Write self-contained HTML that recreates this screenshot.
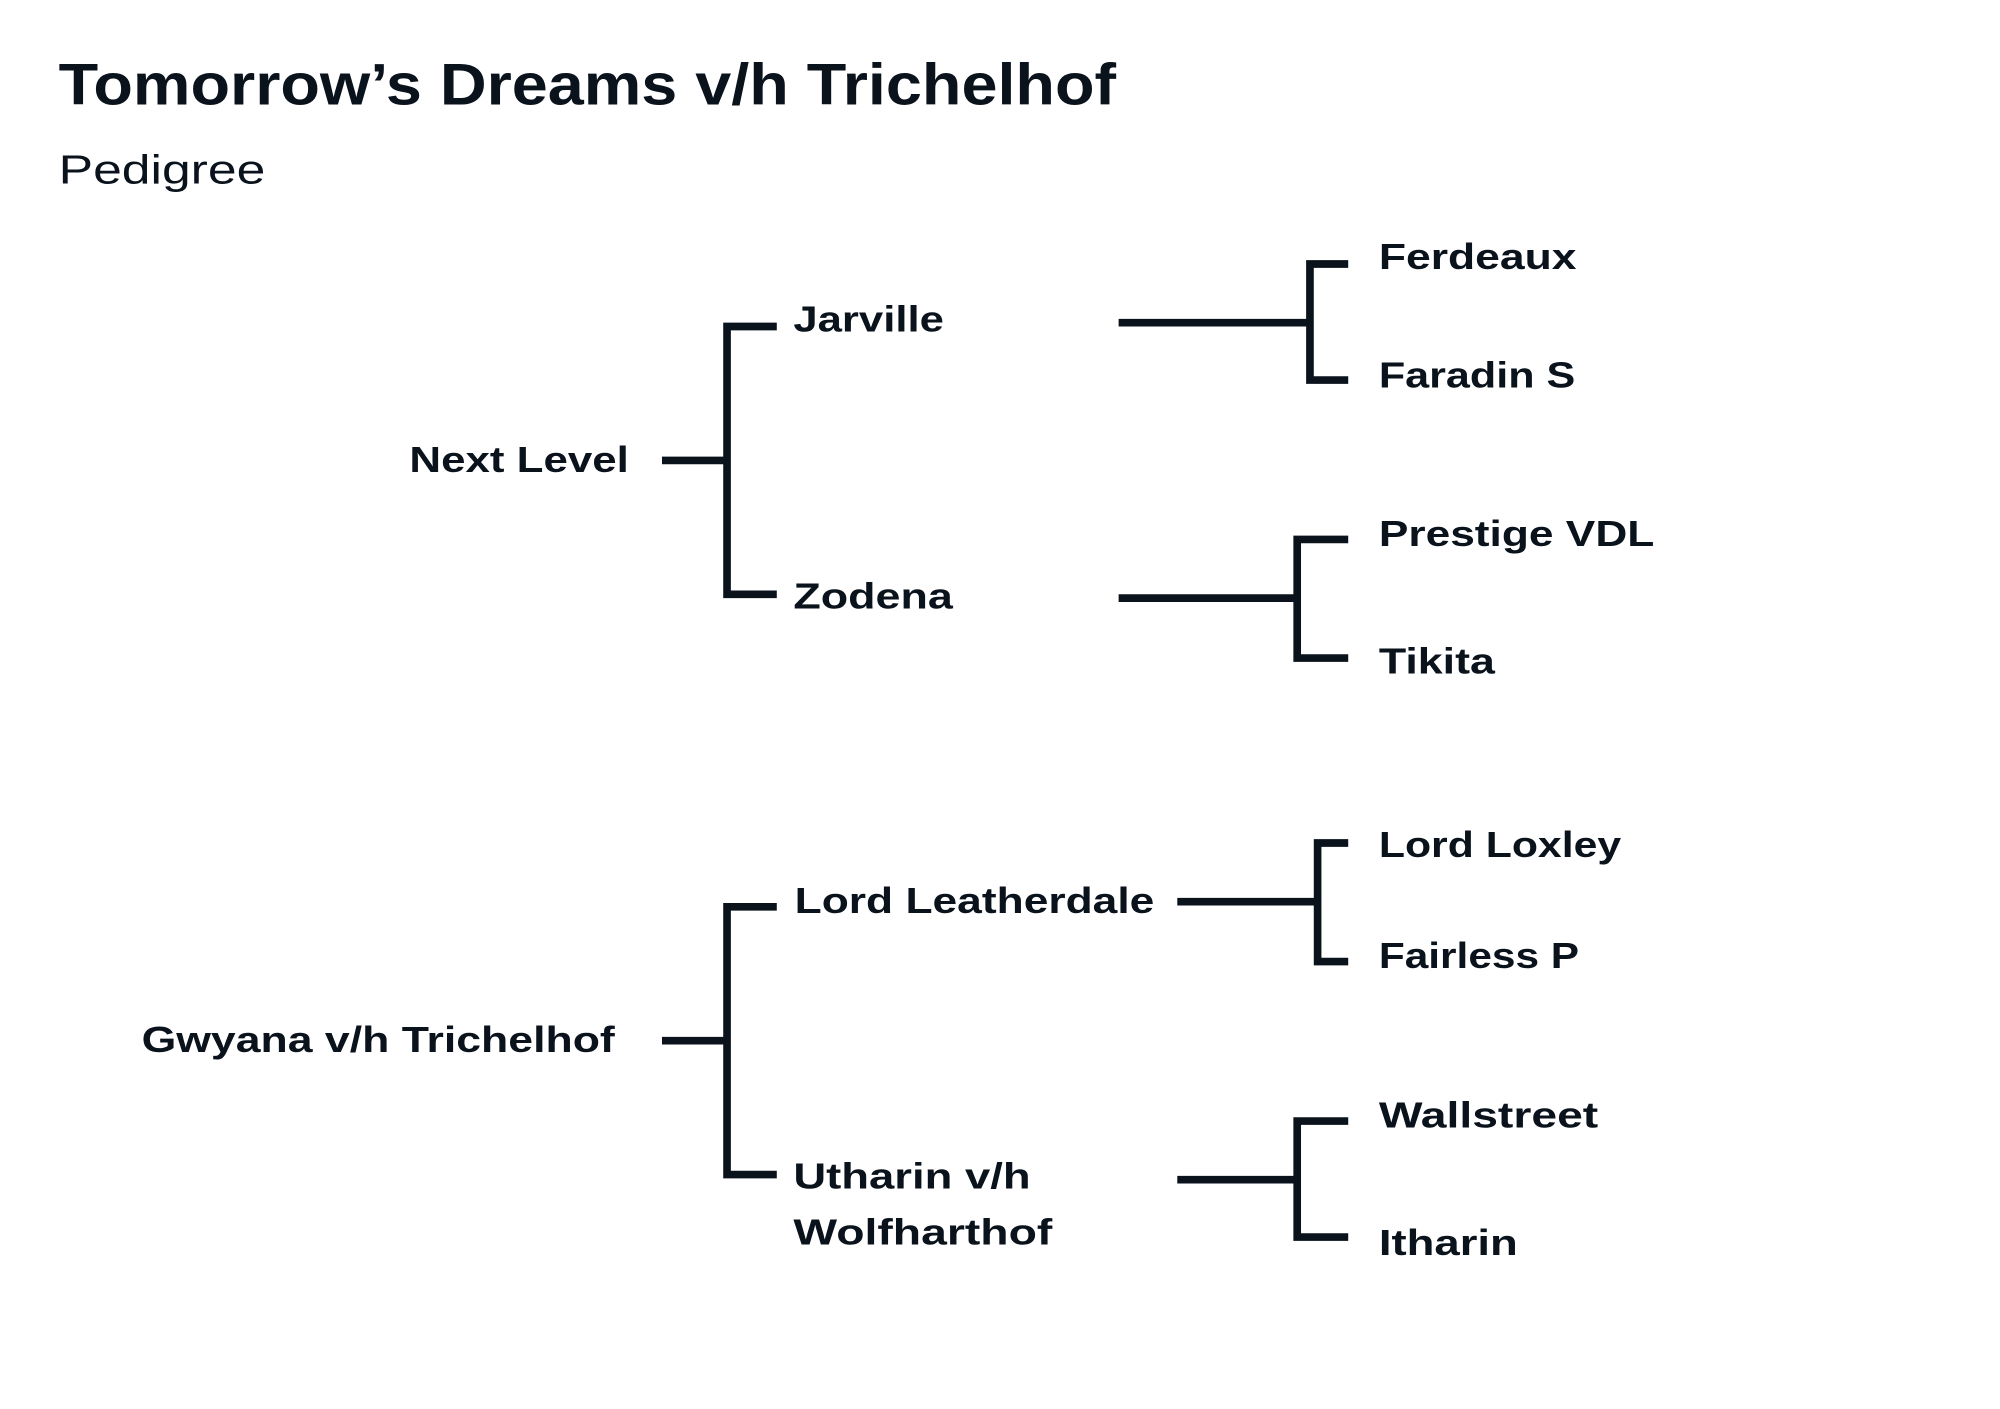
<!DOCTYPE html>
<html><head><meta charset="utf-8"><style>
html,body{margin:0;padding:0;background:#fff;width:2000px;height:1409px;overflow:hidden;}
svg{display:block;}
text{font-family:"Liberation Sans",sans-serif;fill:#0a121c;}
</style></head><body>
<svg width="2000" height="1409" viewBox="0 0 1568 1104.8" preserveAspectRatio="none" xmlns="http://www.w3.org/2000/svg">
<rect width="1568" height="1104.8" fill="#fff"/>
<text x="46" y="82" font-size="46" font-weight="bold" textLength="829" lengthAdjust="spacingAndGlyphs">Tomorrow’s Dreams v/h Trichelhof</text>
<text x="46" y="144" font-size="32" textLength="162" lengthAdjust="spacingAndGlyphs">Pedigree</text>
<g stroke="#0a121c" stroke-width="6" fill="none" stroke-linecap="butt">
<path d="M519 361H570M570 256V466M567 256H609M567 466H609"/>
<path d="M877 253H1027M1027 207V298M1024 207H1057M1024 298H1057"/>
<path d="M877 469H1017M1017 423V516M1014 423H1057M1014 516H1057"/>
<path d="M519 816H570M570 711V921M567 711H609M567 921H609"/>
<path d="M923 707H1033M1033 661V754M1030 661H1057M1030 754H1057"/>
<path d="M923 925H1017M1017 879V970M1014 879H1057M1014 970H1057"/>
</g>
<g font-size="28" font-weight="bold">
<text x="321" y="370" textLength="172" lengthAdjust="spacingAndGlyphs">Next Level</text>
<text x="111" y="825" textLength="371" lengthAdjust="spacingAndGlyphs">Gwyana v/h Trichelhof</text>
<text x="622" y="260" textLength="118" lengthAdjust="spacingAndGlyphs">Jarville</text>
<text x="622" y="477" textLength="125" lengthAdjust="spacingAndGlyphs">Zodena</text>
<text x="623" y="716" textLength="282" lengthAdjust="spacingAndGlyphs">Lord Leatherdale</text>
<text x="622" y="932" textLength="186" lengthAdjust="spacingAndGlyphs">Utharin v/h</text>
<text x="622" y="976" textLength="203" lengthAdjust="spacingAndGlyphs">Wolfharthof</text>
<text x="1081" y="211" textLength="155" lengthAdjust="spacingAndGlyphs">Ferdeaux</text>
<text x="1081" y="304" textLength="154" lengthAdjust="spacingAndGlyphs">Faradin S</text>
<text x="1081" y="428" textLength="216" lengthAdjust="spacingAndGlyphs">Prestige VDL</text>
<text x="1081" y="528" textLength="91" lengthAdjust="spacingAndGlyphs">Tikita</text>
<text x="1081" y="672" textLength="190" lengthAdjust="spacingAndGlyphs">Lord Loxley</text>
<text x="1081" y="759" textLength="157" lengthAdjust="spacingAndGlyphs">Fairless P</text>
<text x="1081" y="884" textLength="172" lengthAdjust="spacingAndGlyphs">Wallstreet</text>
<text x="1081" y="984" textLength="109" lengthAdjust="spacingAndGlyphs">Itharin</text>
</g>
</svg>
</body></html>
